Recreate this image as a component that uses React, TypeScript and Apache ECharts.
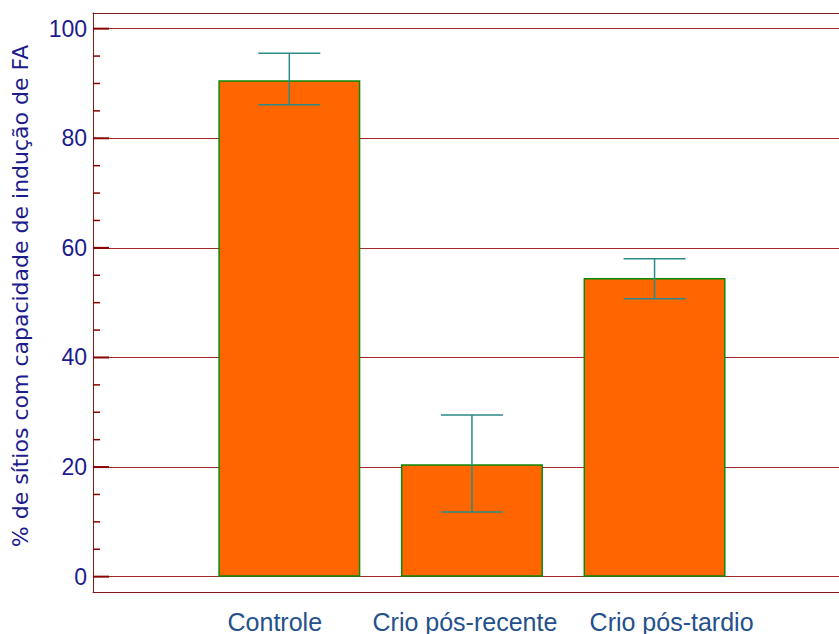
import React, { useEffect, useRef } from 'react';
import * as echarts from 'echarts';

const categories = ['Controle', 'Crio pós-recente', 'Crio pós-tardio'];
const positions = [1, 2, 3];
const means = [90.6, 20.5, 54.5];
const errLow = [86.1, 11.8, 50.7];
const errHigh = [95.5, 29.5, 58.0];
const yMajorTicks = [0, 20, 40, 60, 80, 100];
const yMinorTicks = [5, 10, 15, 25, 30, 35, 45, 50, 55, 65, 70, 75, 85, 90, 95];
const yTitle = '% de sítios com capacidade de indução de FA';

export default function App() {
  const ref = useRef<HTMLDivElement>(null);
  useEffect(() => {
    if (!ref.current) return;
    const chart = echarts.init(ref.current, null, { renderer: 'svg' });
    const frame = '#7f1d1d';
    const gridCol = '#a52a2a';
    const tickCol = '#8b0000';
    const navy = '#1c1c8c';
    const xCol = '#24508c';
    const yMin = -2.8;
    const yMax = 102.86;
    const xMin = -0.075;
    const xMax = 4.01;
    const xFont = { fontFamily: 'Liberation Sans', fontSize: 25, color: xCol };
    const tickData = [
      ...yMajorTicks.map((v) => [v, 16]),
      ...yMinorTicks.map((v) => [v, 7]),
    ];
    chart.setOption({
      animation: false,
      backgroundColor: '#ffffff',
      grid: { left: 93, right: 0, top: 13, bottom: 41, containLabel: false },
      xAxis: [
        {
          type: 'value', min: xMin, max: xMax, position: 'bottom',
          axisLine: { show: true, onZero: false, lineStyle: { color: frame, width: 1 } },
          axisTick: { show: false },
          splitLine: { show: false },
          axisLabel: {
            customValues: positions,
            margin: 17,
            formatter: (v: number) => {
              const i = positions.indexOf(v);
              return i >= 0 ? `{l${i}|${categories[i]}}` : '';
            },
            rich: {
              l0: { ...xFont, padding: [0, 29, 0, 0] },
              l1: { ...xFont, padding: [0, 14, 0, 0] },
              l2: { ...xFont, padding: [0, 0, 0, 34] },
            },
            ...xFont,
          },
        },
        {
          type: 'value', min: xMin, max: xMax, position: 'top',
          axisLine: { show: true, onZero: false, lineStyle: { color: frame, width: 1 } },
          axisTick: { show: false }, axisLabel: { show: false }, splitLine: { show: false },
        },
      ],
      yAxis: [
        {
          type: 'value', min: yMin, max: yMax, position: 'left',
          axisLine: { show: true, onZero: false, lineStyle: { color: frame, width: 1 } },
          axisTick: { show: false, inside: true, length: 16, customValues: yMajorTicks },
          axisLabel: {
            customValues: yMajorTicks, margin: 6, color: navy,
            fontFamily: 'Liberation Sans', fontSize: 23,
          },
          splitLine: { show: true, lineStyle: { color: gridCol, width: 1 } },
        },
      ],
      graphic: [
        {
          type: 'text', x: 20, y: 296, rotation: Math.PI / 2,
          style: {
            text: yTitle, fill: navy, fontFamily: 'DejaVu Sans', fontSize: 22,
            align: 'center', verticalAlign: 'middle',
          },
        },
      ],
      series: [
        {
          type: 'custom', xAxisIndex: 0, yAxisIndex: 0,
          data: tickData,
          encode: { y: 0 },
          clip: false,
          z: 1,
          renderItem: (params: any, api: any) => {
            const y = api.coord([xMin, api.value(0)])[1];
            const x0 = params.coordSys.x;
            const len = api.value(1);
            return {
              type: 'line',
              shape: { x1: x0, y1: y, x2: x0 + len, y2: y },
              style: { stroke: tickCol, lineWidth: len > 10 ? 2 : 1.5 },
            };
          },
        },
        {
          type: 'bar', xAxisIndex: 0, yAxisIndex: 0,
          data: positions.map((p, i) => [p, means[i]]),
          barWidth: 142,
          itemStyle: { color: '#ff6600', borderColor: '#0a8a0a', borderWidth: 1.5 },
          z: 2,
        },
        {
          type: 'custom', xAxisIndex: 0, yAxisIndex: 0,
          data: positions.map((p, i) => [p, errLow[i], errHigh[i]]),
          encode: { x: 0, y: [1, 2] },
          z: 3,
          renderItem: (params: any, api: any) => {
            const x = api.value(0);
            const lo = api.coord([x, api.value(1)]);
            const hi = api.coord([x, api.value(2)]);
            const hw = 31;
            const style = { stroke: '#2a8a8a', lineWidth: 1.5 };
            return {
              type: 'group',
              children: [
                { type: 'line', shape: { x1: hi[0], y1: hi[1], x2: lo[0], y2: lo[1] }, style },
                { type: 'line', shape: { x1: hi[0] - hw, y1: hi[1], x2: hi[0] + hw, y2: hi[1] }, style },
                { type: 'line', shape: { x1: lo[0] - hw, y1: lo[1], x2: lo[0] + hw, y2: lo[1] }, style },
              ],
            };
          },
        },
      ],
    });
    return () => chart.dispose();
  }, []);
  return (
    <div style={{ position: 'fixed', left: 0, top: 0, width: 839, height: 634, background: '#fff' }}>
      <div ref={ref} style={{ width: 839, height: 634 }} />
    </div>
  );
}
